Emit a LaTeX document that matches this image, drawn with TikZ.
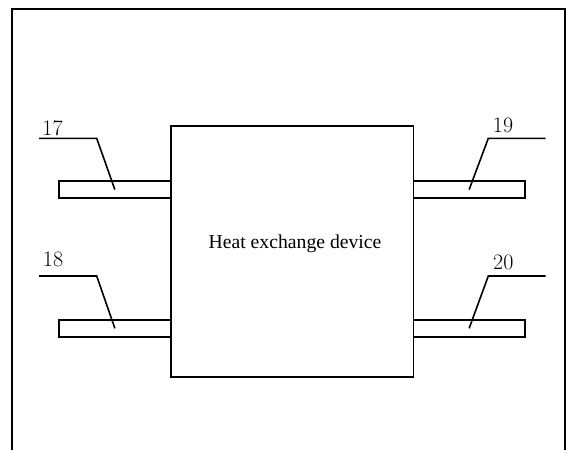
\documentclass[tikz,border=0pt]{standalone}
\usepackage{fontspec}
\newfontfamily\timesfont{Liberation Serif}
\usepackage{tikz}

\begin{document}
\begin{tikzpicture}[x=1pt, y=-1pt, line width=1.6pt,
    pipe/.style={draw, rectangle, inner sep=0pt, outer sep=0pt, minimum width=111.7pt, minimum height=17pt},
    tag/.style={font=\fontsize{22}{26}\selectfont, anchor=base, inner sep=0pt}]
    \useasboundingbox (0,0) rectangle (568,450);
    \draw[line width=2pt] (12,450) -- (12,9) -- (565,9) -- (565,450);
    \node[draw, rectangle, inner sep=0pt, outer sep=0pt, minimum width=242.6pt, minimum height=251pt] (dev) at (292,251.2) {};
    \node[font=\timesfont\fontsize{19.7}{24}\selectfont, anchor=base, inner sep=0pt] (devtext) at (295,248.3) {Heat exchange device};
    \node[pipe, anchor=east] (p17) at (170.7,189.6) {};
    \node[pipe, anchor=east] (p18) at (170.7,328.3) {};
    \node[pipe, anchor=west] (p19) at (413.3,189.6) {};
    \node[pipe, anchor=west] (p20) at (413.3,328.3) {};
    \coordinate (k17) at (96.7,138.3);
    \coordinate (e17) at (39,138.3);
    \coordinate (k18) at (96.7,276);
    \coordinate (e18) at (39,276);
    \coordinate (k19) at (488.3,138.3);
    \coordinate (e19) at (545.7,138.3);
    \coordinate (k20) at (488.3,276);
    \coordinate (e20) at (545.7,276);
    \draw (p17.center) -- (k17) -- (e17);
    \draw (p18.center) -- (k18) -- (e18);
    \draw (p19.center) -- (k19) -- (e19);
    \draw (p20.center) -- (k20) -- (e20);
    \node[tag] (l17) at (52.5,135) {17};
    \node[tag] (l18) at (53,266.7) {18};
    \node[tag] (l19) at (503,132.7) {19};
    \node[tag] (l20) at (503.3,269) {20};
\end{tikzpicture}
\end{document}
